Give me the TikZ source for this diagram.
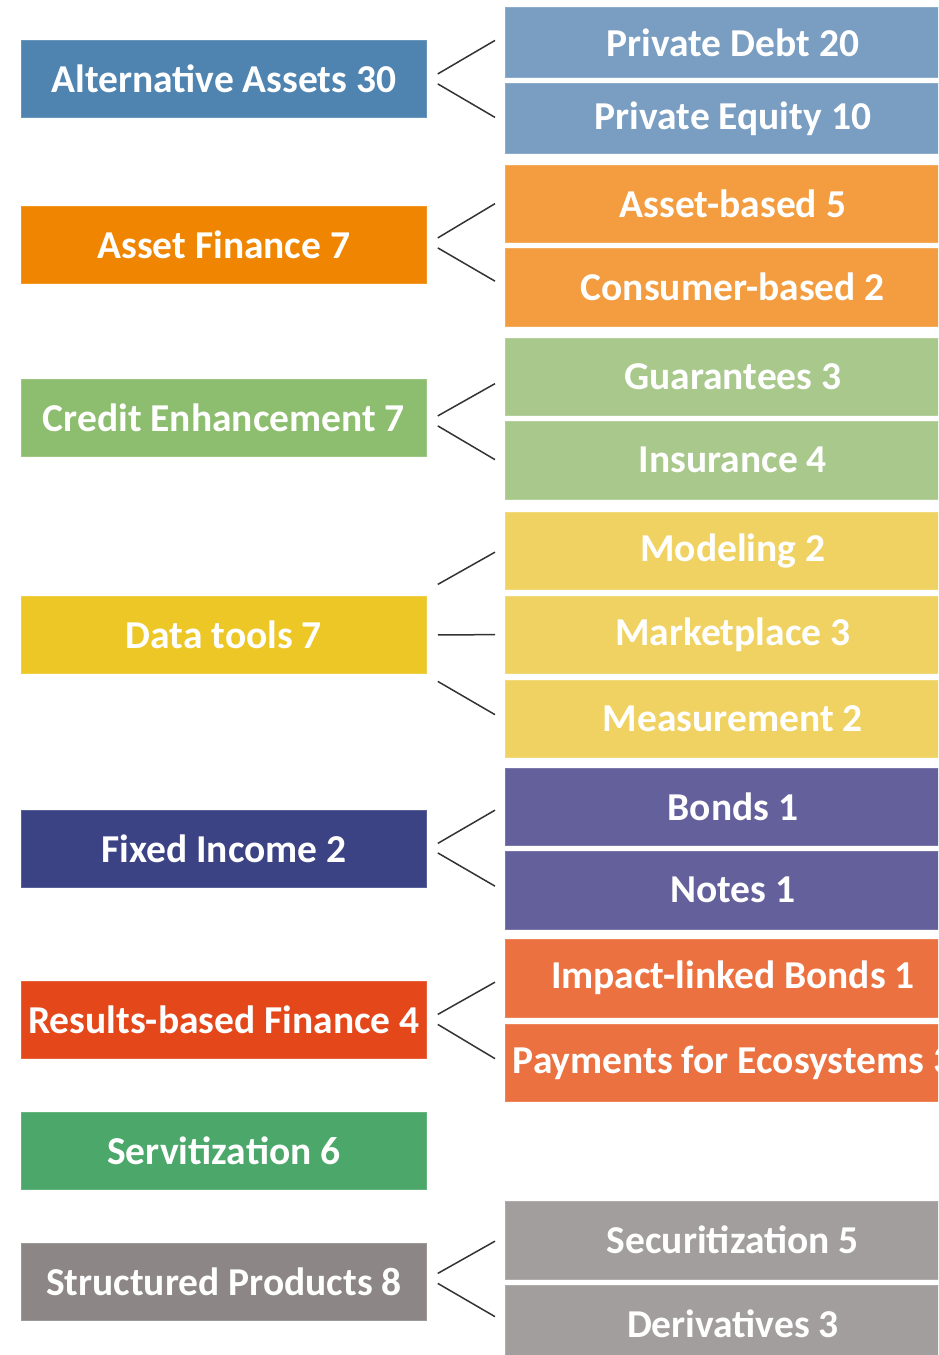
\documentclass[tikz,border=0pt]{standalone}
\usepackage{fontspec}
\setmainfont{Carlito}
\definecolor{cAlt}{HTML}{4F84B1}
\definecolor{cAltC}{HTML}{7A9DC2}
\definecolor{cAF}{HTML}{EF8500}
\definecolor{cAFC}{HTML}{F39D40}
\definecolor{cCE}{HTML}{8DBD6E}
\definecolor{cCEC}{HTML}{A9C88C}
\definecolor{cDT}{HTML}{ECC726}
\definecolor{cDTC}{HTML}{F0D262}
\definecolor{cFI}{HTML}{3C4385}
\definecolor{cFIC}{HTML}{63609B}
\definecolor{cRB}{HTML}{E4481A}
\definecolor{cRBC}{HTML}{EB7140}
\definecolor{cSV}{HTML}{4BA86A}
\definecolor{cSP}{HTML}{8C8786}
\definecolor{cSPC}{HTML}{A39E9E}
\definecolor{cLine}{HTML}{333333}
\begin{document}
\begin{tikzpicture}[x=1pt,y=-1pt,
  lbox/.style={rectangle, fill=#1, draw=#1!85!white, line width=0.8pt, minimum width=405pt, minimum height=77pt, inner sep=0pt, anchor=north west, text=white, font=\fontsize{39.5}{42}\selectfont\bfseries},
  rbox/.style={rectangle, fill=#1, draw=#1!85!white, line width=0.8pt, minimum width=455pt, minimum height=77.5pt, inner sep=0pt, anchor=north west, text=white, font=\fontsize{39.5}{42}\selectfont\bfseries},
  conn/.style={draw=cLine, line width=1.5pt}]
\useasboundingbox (0,0) rectangle (938,1355);
\clip (0,0) rectangle (938,1355);
% left boxes
\node[lbox=cAlt] (alt) at (21,40) {Alternative Assets 30};
\node[lbox=cAF] (af) at (21,206) {Asset Finance 7};
\node[lbox=cCE] (ce) at (21,379) {Credit Enhancement 7};
\node[lbox=cDT] (dt) at (21,596) {Data tools 7};
\node[lbox=cFI] (fi) at (21,809.5) {Fixed Income 2};
\node[lbox=cRB] (rb) at (21,981) {Results-based Finance 4};
\node[lbox=cSV] (sv) at (21,1112) {Servitization 6};
\node[lbox=cSP] (sp) at (21,1243) {Structured Products 8};
% right boxes
\node[rbox=cAltC, minimum height=70pt] (pd) at (505,7) {Private Debt 20};
\node[rbox=cAltC, minimum height=70pt] (pq) at (505,83) {Private Equity 10};
\node[rbox=cAFC] (ab) at (505,164.5) {Asset-based 5};
\node[rbox=cAFC] (cb) at (505,248) {Consumer-based 2};
\node[rbox=cCEC] (gu) at (505,337.5) {Guarantees 3};
\node[rbox=cCEC] (in) at (505,421) {Insurance 4};
\node[rbox=cDTC] (mo) at (505,511.5) {Modeling 2};
\node[rbox=cDTC] (mp) at (505,595.5) {Marketplace 3};
\node[rbox=cDTC] (me) at (505,679.5) {Measurement 2};
\node[rbox=cFIC] (bo) at (505,767.5) {Bonds 1};
\node[rbox=cFIC] (no) at (505,851) {Notes 1};
\node[rbox=cRBC] (il) at (505,939) {Impact-linked Bonds 1};
\node[rbox=cRBC] (pa) at (505,1023.5) {Payments for Ecosystems 3};
\node[rbox=cSPC] (se) at (505,1201) {Securitization 5};
\node[rbox=cSPC] (de) at (505,1285) {Derivatives 3};
% connectors
\draw[conn] ([shift={(11,-5)}]alt.east) -- ([shift={(-10,-2)}]pd.west);
\draw[conn] ([shift={(11,5)}]alt.east) -- ([shift={(-10,-1)}]pq.west);
\draw[conn] ([shift={(11,-7)}]af.east) -- ([shift={(-10,0)}]ab.west);
\draw[conn] ([shift={(11,3)}]af.east) -- ([shift={(-10,-6)}]cb.west);
\draw[conn] ([shift={(11,-2)}]ce.east) -- ([shift={(-10,7)}]gu.west);
\draw[conn] ([shift={(11,8)}]ce.east) -- ([shift={(-10,-0.5)}]in.west);
\draw[conn] ([shift={(11,-50.5)}]dt.east) -- ([shift={(-10,1.5)}]mo.west);
\draw[conn] ([shift={(11,0)}]dt.east) -- ([shift={(-10,0)}]mp.west);
\draw[conn] ([shift={(11,46.5)}]dt.east) -- ([shift={(-10,-4)}]me.west);
\draw[conn] ([shift={(11,-5)}]fi.east) -- ([shift={(-10,3.5)}]bo.west);
\draw[conn] ([shift={(11,4.5)}]fi.east) -- ([shift={(-10,-4)}]no.west);
\draw[conn] ([shift={(11,-5.5)}]rb.east) -- ([shift={(-10,4)}]il.west);
\draw[conn] ([shift={(11,4.5)}]rb.east) -- ([shift={(-10,-4)}]pa.west);
\draw[conn] ([shift={(11,-8.5)}]sp.east) -- ([shift={(-10,1)}]se.west);
\draw[conn] ([shift={(11,1.5)}]sp.east) -- ([shift={(-10,-7.5)}]de.west);
\end{tikzpicture}
\end{document}
